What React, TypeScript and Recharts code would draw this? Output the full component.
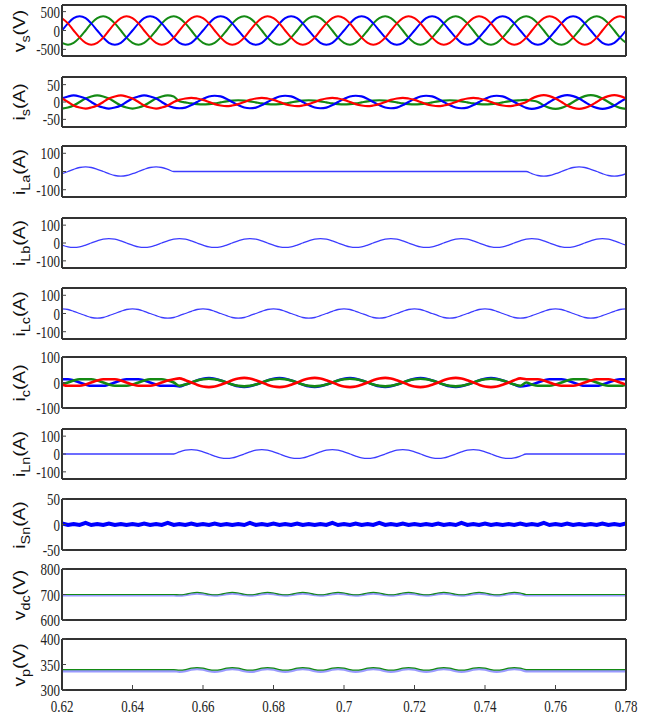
import React from "react";
import { LineChart, Line, XAxis, YAxis } from "recharts";

// time grid in seconds, one step = 30 electrical degrees at 50 Hz
const TIME = [
  0.62, 0.6217, 0.6233, 0.625, 0.6267, 0.6283,
  0.63, 0.6317, 0.6333, 0.635, 0.6367, 0.6383,
  0.64, 0.6417, 0.6433, 0.645, 0.6467, 0.6483,
  0.65, 0.6517, 0.6533, 0.655, 0.6567, 0.6583,
  0.66, 0.6617, 0.6633, 0.665, 0.6667, 0.6683,
  0.67, 0.6717, 0.6733, 0.675, 0.6767, 0.6783,
  0.68, 0.6817, 0.6833, 0.685, 0.6867, 0.6883,
  0.69, 0.6917, 0.6933, 0.695, 0.6967, 0.6983,
  0.7, 0.7017, 0.7033, 0.705, 0.7067, 0.7083,
  0.71, 0.7117, 0.7133, 0.715, 0.7167, 0.7183,
  0.72, 0.7217, 0.7233, 0.725, 0.7267, 0.7283,
  0.73, 0.7317, 0.7333, 0.735, 0.7367, 0.7383,
  0.74, 0.7417, 0.7433, 0.745, 0.7467, 0.7483,
  0.75, 0.7517, 0.7533, 0.755, 0.7567, 0.7583,
  0.76, 0.7617, 0.7633, 0.765, 0.7667, 0.7683,
  0.77, 0.7717, 0.7733, 0.775, 0.7767, 0.7783,
  0.78,
];

const X_TICKS = [0.62, 0.64, 0.66, 0.68, 0.7, 0.72, 0.74, 0.76, 0.78];
const X_TICK_LABELS = ["0.62", "0.64", "0.66", "0.68", "0.7", "0.72", "0.74", "0.76", "0.78"];

// v_s (V)
const VS_BLUE = [
  0, 188, 325, 375, 325, 188, 0, -188, -325, -375, -325, -188,
  0, 188, 325, 375, 325, 188, 0, -188, -325, -375, -325, -188,
  0, 188, 325, 375, 325, 188, 0, -188, -325, -375, -325, -188,
  0, 188, 325, 375, 325, 188, 0, -188, -325, -375, -325, -188,
  0, 188, 325, 375, 325, 188, 0, -188, -325, -375, -325, -188,
  0, 188, 325, 375, 325, 188, 0, -188, -325, -375, -325, -188,
  0, 188, 325, 375, 325, 188, 0, -188, -325, -375, -325, -188,
  0, 188, 325, 375, 325, 188, 0, -188, -325, -375, -325, -188,
  0,
];
const VS_RED = [
  325, 188, 0, -188, -325, -375, -325, -188, 0, 188, 325, 375,
  325, 188, 0, -188, -325, -375, -325, -188, 0, 188, 325, 375,
  325, 188, 0, -188, -325, -375, -325, -188, 0, 188, 325, 375,
  325, 188, 0, -188, -325, -375, -325, -188, 0, 188, 325, 375,
  325, 188, 0, -188, -325, -375, -325, -188, 0, 188, 325, 375,
  325, 188, 0, -188, -325, -375, -325, -188, 0, 188, 325, 375,
  325, 188, 0, -188, -325, -375, -325, -188, 0, 188, 325, 375,
  325, 188, 0, -188, -325, -375, -325, -188, 0, 188, 325, 375,
  325,
];
const VS_GREEN = [
  -325, -375, -325, -188, 0, 188, 325, 375, 325, 188, 0, -188,
  -325, -375, -325, -188, 0, 188, 325, 375, 325, 188, 0, -188,
  -325, -375, -325, -188, 0, 188, 325, 375, 325, 188, 0, -188,
  -325, -375, -325, -188, 0, 188, 325, 375, 325, 188, 0, -188,
  -325, -375, -325, -188, 0, 188, 325, 375, 325, 188, 0, -188,
  -325, -375, -325, -188, 0, 188, 325, 375, 325, 188, 0, -188,
  -325, -375, -325, -188, 0, 188, 325, 375, 325, 188, 0, -188,
  -325, -375, -325, -188, 0, 188, 325, 375, 325, 188, 0, -188,
  -325,
];

// i_s (A)
const IS_BLUE = [
  10, 16, 19, 16, 10, 0, -10, -16, -19, -16, -10, 0,
  10, 16, 19, 16, 10, 0, -10, -16, -18, -16, -9, 0,
  9, 16, 18, 16, 9, 0, -9, -16, -18, -16, -9, 0,
  9, 16, 18, 16, 9, 0, -9, -16, -18, -16, -9, 0,
  9, 16, 18, 16, 9, 0, -9, -16, -18, -16, -9, 0,
  9, 16, 18, 16, 9, 0, -9, -16, -18, -16, -9, 0,
  9, 16, 18, 16, 9, 0, -9, -17, -20, -17, -10, 0,
  10, 17, 20, 17, 10, 0, -10, -17, -20, -17, -10, 0,
  10,
];
const IS_RED = [
  10, 0, -10, -16, -19, -16, -10, 0, 10, 16, 19, 16,
  10, 0, -10, -16, -19, -16, -10, 0, 6, 10, 12, 10,
  6, 0, -6, -10, -12, -10, -6, 0, 6, 10, 12, 10,
  6, 0, -6, -10, -12, -10, -6, 0, 6, 10, 12, 10,
  6, 0, -6, -10, -12, -10, -6, 0, 6, 10, 12, 10,
  6, 0, -6, -10, -12, -10, -6, 0, 6, 10, 12, 10,
  6, 0, -6, -10, -12, -10, -6, 0, 10, 17, 20, 17,
  10, 0, -10, -17, -20, -17, -10, 0, 10, 17, 20, 17,
  10,
];
const IS_GREEN = [
  -19, -16, -10, 0, 10, 16, 19, 16, 10, 0, -10, -16,
  -19, -16, -10, 0, 10, 16, 19, 16, 2, -1, -4, -6,
  -7, -6, -4, -1, 2, 4, 5, 4, 2, -1, -4, -6,
  -7, -6, -4, -1, 2, 4, 5, 4, 2, -1, -4, -6,
  -7, -6, -4, -1, 2, 4, 5, 4, 2, -1, -4, -6,
  -7, -6, -4, -1, 2, 4, 5, 4, 2, -1, -4, -6,
  -7, -6, -4, -1, 2, 4, 5, 6, 4, 0, -10, -17,
  -20, -17, -10, 0, 10, 17, 20, 17, 10, 0, -10, -17,
  -20,
];

// load currents (A)
const I_LA = [
  -12, 0, 12, 22, 25, 22, 12, 0, -12, -22, -25, -22,
  -12, 0, 12, 22, 25, 22, 12, 0, 0, 0, 0, 0,
  0, 0, 0, 0, 0, 0, 0, 0, 0, 0, 0, 0,
  0, 0, 0, 0, 0, 0, 0, 0, 0, 0, 0, 0,
  0, 0, 0, 0, 0, 0, 0, 0, 0, 0, 0, 0,
  0, 0, 0, 0, 0, 0, 0, 0, 0, 0, 0, 0,
  0, 0, 0, 0, 0, 0, 0, 0, -12, -22, -25, -22,
  -12, 0, 12, 22, 25, 22, 12, 0, -12, -22, -25, -22,
  -12,
];
const I_LB = [
  -12, -22, -25, -22, -12, 0, 12, 22, 25, 22, 12, 0,
  -12, -22, -25, -22, -12, 0, 12, 22, 25, 22, 12, 0,
  -12, -22, -25, -22, -12, 0, 12, 22, 25, 22, 12, 0,
  -12, -22, -25, -22, -12, 0, 12, 22, 25, 22, 12, 0,
  -12, -22, -25, -22, -12, 0, 12, 22, 25, 22, 12, 0,
  -12, -22, -25, -22, -12, 0, 12, 22, 25, 22, 12, 0,
  -12, -22, -25, -22, -12, 0, 12, 22, 25, 22, 12, 0,
  -12, -22, -25, -22, -12, 0, 12, 22, 25, 22, 12, 0,
  -12,
];
const I_LC = [
  25, 22, 12, 0, -12, -22, -25, -22, -12, 0, 12, 22,
  25, 22, 12, 0, -12, -22, -25, -22, -12, 0, 12, 22,
  25, 22, 12, 0, -12, -22, -25, -22, -12, 0, 12, 22,
  25, 22, 12, 0, -12, -22, -25, -22, -12, 0, 12, 22,
  25, 22, 12, 0, -12, -22, -25, -22, -12, 0, 12, 22,
  25, 22, 12, 0, -12, -22, -25, -22, -12, 0, 12, 22,
  25, 22, 12, 0, -12, -22, -25, -22, -12, 0, 12, 22,
  25, 22, 12, 0, -12, -22, -25, -22, -12, 0, 12, 22,
  25,
];

// compensator currents i_c (A)
const IC_BLUE = [
  13, 13, 8, 0, -8, -13, -13, -13, -8, 0, 8, 13,
  13, 13, 8, 0, -8, -13, -13, -13, -15, -8, 0, 8,
  15, 17, 15, 8, 0, -8, -15, -17, -15, -8, 0, 8,
  15, 17, 15, 8, 0, -8, -15, -17, -15, -8, 0, 8,
  15, 17, 15, 8, 0, -8, -15, -17, -15, -8, 0, 8,
  15, 17, 15, 8, 0, -8, -15, -17, -15, -8, 0, 8,
  15, 17, 15, 8, 0, -8, -15, -13, -8, 0, 8, 13,
  13, 13, 8, 0, -8, -13, -13, -13, -8, 0, 8, 13,
  13,
];
const IC_RED = [
  -8, -13, -13, -13, -8, 0, 8, 13, 13, 13, 8, 0,
  -8, -13, -13, -13, -8, 0, 8, 13, 16, 9, 0, -9,
  -16, -18, -16, -9, 0, 9, 16, 18, 16, 9, 0, -9,
  -16, -18, -16, -9, 0, 9, 16, 18, 16, 9, 0, -9,
  -16, -18, -16, -9, 0, 9, 16, 18, 16, 9, 0, -9,
  -16, -18, -16, -9, 0, 9, 16, 18, 16, 9, 0, -9,
  -16, -18, -16, -9, 0, 9, 16, 13, 13, 13, 8, 0,
  -8, -13, -13, -13, -8, 0, 8, 13, 13, 13, 8, 0,
  -8,
];
const IC_GREEN = [
  -8, 0, 8, 13, 13, 13, 8, 0, -8, -13, -13, -13,
  -8, 0, 8, 13, 13, 13, 8, 0, -13, -8, 0, 8,
  13, 15, 13, 8, 0, -8, -13, -15, -13, -8, 0, 8,
  13, 15, 13, 8, 0, -8, -13, -15, -13, -8, 0, 8,
  13, 15, 13, 8, 0, -8, -13, -15, -13, -8, 0, 8,
  13, 15, 13, 8, 0, -8, -13, -15, -13, -8, 0, 8,
  13, 15, 13, 8, 0, -8, -13, 0, -8, -13, -13, -13,
  -8, 0, 8, 13, 13, 13, 8, 0, -8, -13, -13, -13,
  -8,
];

// load neutral current (A)
const I_LN = [
  0, 0, 0, 0, 0, 0, 0, 0, 0, 0, 0, 0,
  0, 0, 0, 0, 0, 0, 0, 0, 12, 22, 25, 22,
  12, 0, -12, -22, -25, -22, -12, 0, 12, 22, 25, 22,
  12, 0, -12, -22, -25, -22, -12, 0, 12, 22, 25, 22,
  12, 0, -12, -22, -25, -22, -12, 0, 12, 22, 25, 22,
  12, 0, -12, -22, -25, -22, -12, 0, 12, 22, 25, 22,
  12, 0, -12, -22, -25, -22, -12, 0, 0, 0, 0, 0,
  0, 0, 0, 0, 0, 0, 0, 0, 0, 0, 0, 0,
  0,
];

// source neutral current (A), switching ripple only
const I_SN = [
  2, -1, 1, -1, 3, -1, 1, -1, 2, -1, 1, -1,
  1, -1, 2, -1, 1, -1, 3, -1, 1, -1, 2, -1,
  1, -1, 2, -1, 1, -1, 1, -1, 3, -1, 1, -1,
  2, -1, 1, -1, 2, -1, 1, -1, 1, -1, 3, -1,
  1, -1, 2, -1, 1, -1, 3, -1, 1, -1, 2, -1,
  1, -1, 1, -1, 2, -1, 1, -1, 3, -1, 1, -1,
  2, -1, 1, -1, 1, -1, 2, -1, 1, -1, 3, -1,
  1, -1, 2, -1, 1, -1, 1, -1, 2, -1, 1, -1,
  2,
];

// dc bus voltage (V)
const VDC_GREEN = [
  700, 700, 700, 700, 700, 700, 700, 700, 700, 700, 700, 700,
  700, 700, 700, 700, 700, 700, 700, 700, 699, 701, 706, 708,
  706, 701, 699, 701, 706, 708, 706, 701, 699, 701, 706, 708,
  706, 701, 699, 701, 706, 708, 706, 701, 699, 701, 706, 708,
  706, 701, 699, 701, 706, 708, 706, 701, 699, 701, 706, 708,
  706, 701, 699, 701, 706, 708, 706, 701, 699, 701, 706, 708,
  706, 701, 699, 701, 706, 708, 706, 700, 700, 700, 700, 700,
  700, 700, 700, 700, 700, 700, 700, 700, 700, 700, 700, 700,
  700,
];
const VDC_BLUE = [
  697, 697, 697, 697, 697, 697, 697, 697, 697, 697, 697, 697,
  697, 697, 697, 697, 697, 697, 697, 697, 696, 698, 702, 704,
  702, 698, 696, 698, 702, 704, 702, 698, 696, 698, 702, 704,
  702, 698, 696, 698, 702, 704, 702, 698, 696, 698, 702, 704,
  702, 698, 696, 698, 702, 704, 702, 698, 696, 698, 702, 704,
  702, 698, 696, 698, 702, 704, 702, 698, 696, 698, 702, 704,
  702, 698, 696, 698, 702, 704, 702, 697, 697, 697, 697, 697,
  697, 697, 697, 697, 697, 697, 697, 697, 697, 697, 697, 697,
  697,
];

// split capacitor voltage (V)
const VP_GREEN = [
  340, 340, 340, 340, 340, 340, 340, 340, 340, 340, 340, 340,
  340, 340, 340, 340, 340, 340, 340, 340, 339, 340, 343, 344,
  343, 340, 339, 340, 343, 344, 343, 340, 339, 340, 343, 344,
  343, 340, 339, 340, 343, 344, 343, 340, 339, 340, 343, 344,
  343, 340, 339, 340, 343, 344, 343, 340, 339, 340, 343, 344,
  343, 340, 339, 340, 343, 344, 343, 340, 339, 340, 343, 344,
  343, 340, 339, 340, 343, 344, 343, 340, 340, 340, 340, 340,
  340, 340, 340, 340, 340, 340, 340, 340, 340, 340, 340, 340,
  340,
];
const VP_BLUE = [
  337, 337, 337, 337, 337, 337, 337, 337, 337, 337, 337, 337,
  337, 337, 337, 337, 337, 337, 337, 337, 336, 337, 340, 341,
  340, 337, 336, 337, 340, 341, 340, 337, 336, 337, 340, 341,
  340, 337, 336, 337, 340, 341, 340, 337, 336, 337, 340, 341,
  340, 337, 336, 337, 340, 341, 340, 337, 336, 337, 340, 341,
  340, 337, 336, 337, 340, 341, 340, 337, 336, 337, 340, 341,
  340, 337, 336, 337, 340, 341, 340, 337, 337, 337, 337, 337,
  337, 337, 337, 337, 337, 337, 337, 337, 337, 337, 337, 337,
  337,
];

const BLUE = "#0000ff";
const RED = "#ff0000";
const GREEN = "#148a14";
const THIN_BLUE = "#3c3cff";
const PALE_BLUE = "#9a9aff";

const SERIF = "'Liberation Serif', 'Times New Roman', serif";
const SANS = "'Liberation Sans', Arial, sans-serif";

const frame = { stroke: "#333", strokeWidth: 2 };
const tickMark = { stroke: "#444", strokeWidth: 1 };

const YTick = (props: any) => {
  const { x, y, payload } = props;
  return (
    <g transform={`translate(${x},${y}) scale(1,1.3)`}>
      <text x={0} y={0} dy="0.36em" textAnchor="end" fontFamily={SERIF} fontSize={13} fill="#222">
        {String(payload.value)}
      </text>
    </g>
  );
};

const XTick = (props: any) => {
  const { x, y, payload } = props;
  const i = X_TICKS.indexOf(payload.value);
  return (
    <g transform={`translate(${x},${y}) scale(1,1.3)`}>
      <text x={0} y={0} dy="0.75em" textAnchor="middle" fontFamily={SERIF} fontSize={13} fill="#222">
        {i >= 0 ? X_TICK_LABELS[i] : String(payload.value)}
      </text>
    </g>
  );
};

type Trace = { key: string; values: number[]; color: string; width: number; curve?: "monotone" | "linear" };
type PanelDef = {
  top: number;
  bottom: number;
  domain: [number, number];
  ticks: number[];
  sym: string;
  sub: string;
  unit: string;
  traces: Trace[];
  showX?: boolean;
};

const PANELS: PanelDef[] = [
  {
    top: 5, bottom: 56, domain: [-675, 675], ticks: [-500, 0, 500], sym: "v", sub: "s", unit: "(V)",
    traces: [
      { key: "g", values: VS_GREEN, color: GREEN, width: 2 },
      { key: "b", values: VS_BLUE, color: BLUE, width: 2 },
      { key: "r", values: VS_RED, color: RED, width: 2 },
    ],
  },
  {
    top: 77, bottom: 127, domain: [-72, 72], ticks: [-50, 0, 50], sym: "i", sub: "s", unit: "(A)",
    traces: [
      { key: "g", values: IS_GREEN, color: GREEN, width: 2.2 },
      { key: "b", values: IS_BLUE, color: BLUE, width: 2.2 },
      { key: "r", values: IS_RED, color: RED, width: 2.2 },
    ],
  },
  {
    top: 146, bottom: 197, domain: [-140, 140], ticks: [-100, 0, 100], sym: "i", sub: "La", unit: "(A)",
    traces: [{ key: "a", values: I_LA, color: THIN_BLUE, width: 1.3 }],
  },
  {
    top: 218, bottom: 268, domain: [-140, 140], ticks: [-100, 0, 100], sym: "i", sub: "Lb", unit: "(A)",
    traces: [{ key: "a", values: I_LB, color: THIN_BLUE, width: 1.3 }],
  },
  {
    top: 288, bottom: 339, domain: [-140, 140], ticks: [-100, 0, 100], sym: "i", sub: "Lc", unit: "(A)",
    traces: [{ key: "a", values: I_LC, color: THIN_BLUE, width: 1.3 }],
  },
  {
    top: 357, bottom: 408, domain: [-100, 100], ticks: [-100, 0, 100], sym: "i", sub: "c", unit: "(A)",
    traces: [
      { key: "b", values: IC_BLUE, color: BLUE, width: 2.6 },
      { key: "g", values: IC_GREEN, color: GREEN, width: 2.6 },
      { key: "r", values: IC_RED, color: RED, width: 2.6 },
    ],
  },
  {
    top: 429, bottom: 479, domain: [-140, 140], ticks: [-100, 0, 100], sym: "i", sub: "Ln", unit: "(A)",
    traces: [{ key: "a", values: I_LN, color: THIN_BLUE, width: 1.3 }],
  },
  {
    top: 499, bottom: 550, domain: [-50, 50], ticks: [-50, 0, 50], sym: "i", sub: "Sn", unit: "(A)",
    traces: [{ key: "a", values: I_SN, color: BLUE, width: 4, curve: "linear" }],
  },
  {
    top: 569, bottom: 620, domain: [600, 800], ticks: [600, 700, 800], sym: "v", sub: "dc", unit: "(V)",
    traces: [
      { key: "b", values: VDC_BLUE, color: PALE_BLUE, width: 2.5 },
      { key: "g", values: VDC_GREEN, color: GREEN, width: 1.2 },
    ],
  },
  {
    top: 639, bottom: 690, domain: [300, 400], ticks: [300, 350, 400], sym: "v", sub: "p", unit: "(V)",
    traces: [
      { key: "b", values: VP_BLUE, color: PALE_BLUE, width: 2.5 },
      { key: "g", values: VP_GREEN, color: GREEN, width: 1.2 },
    ],
    showX: true,
  },
];

const Panel = ({ p }: { p: PanelDef }) => {
  const pad = 10;
  const xh = p.showX ? 26 : 1;
  const mb = p.showX ? 2 : pad - 1;
  const h = pad + (p.bottom - p.top) + xh + mb;
  const rows = TIME.map((t, k) => {
    const row: Record<string, number> = { t };
    p.traces.forEach((tr) => {
      row[tr.key] = tr.values[k];
    });
    return row;
  });
  return (
    <div style={{ position: "absolute", left: 0, top: p.top - pad }}>
      <LineChart width={651} height={h} data={rows} margin={{ top: pad - 1, right: 24, bottom: mb, left: 0 }}>
        <XAxis
          xAxisId="b"
          dataKey="t"
          type="number"
          domain={[0.62, 0.78]}
          allowDataOverflow
          ticks={X_TICKS}
          interval={0}
          height={xh}
          axisLine={frame}
          tickLine={p.showX ? tickMark : false}
          tickSize={-5}
          tickMargin={14}
          tick={p.showX ? <XTick /> : false}
        />
        <XAxis
          xAxisId="t"
          orientation="top"
          dataKey="t"
          type="number"
          domain={[0.62, 0.78]}
          allowDataOverflow
          ticks={X_TICKS}
          interval={0}
          height={1}
          axisLine={frame}
          tickLine={p.showX ? tickMark : false}
          tickSize={-5}
          tick={false}
        />
        <YAxis
          yAxisId="l"
          type="number"
          domain={p.domain}
          allowDataOverflow
          ticks={p.ticks}
          interval={0}
          width={62}
          axisLine={frame}
          tickLine={tickMark}
          tickSize={-4}
          tickMargin={6}
          tick={<YTick />}
        />
        <YAxis
          yAxisId="r"
          orientation="right"
          type="number"
          domain={p.domain}
          allowDataOverflow
          ticks={p.ticks}
          interval={0}
          width={1}
          axisLine={frame}
          tickLine={tickMark}
          tickSize={-4}
          tick={false}
        />
        {p.traces.map((tr) => (
          <Line
            key={tr.key}
            xAxisId="b"
            yAxisId="l"
            dataKey={tr.key}
            type={tr.curve ?? "monotone"}
            stroke={tr.color}
            strokeWidth={tr.width}
            dot={false}
            activeDot={false}
            isAnimationActive={false}
          />
        ))}
      </LineChart>
      <div
        style={{
          position: "absolute",
          left: 20,
          top: pad + (p.bottom - p.top) / 2,
          transform: "translate(-50%, -50%) rotate(-90deg) scaleX(1.2)",
          whiteSpace: "nowrap",
          fontFamily: SANS,
          fontSize: 16,
          lineHeight: 1,
          color: "#111",
        }}
      >
        {p.sym}
        <span style={{ fontSize: 12, position: "relative", top: 5 }}>{p.sub}</span>
        {p.unit}
      </div>
    </div>
  );
};

export default function App() {
  return (
    <div style={{ position: "absolute", left: 0, top: 0, width: 651, height: 718, background: "#fff" }}>
      {PANELS.map((p, i) => (
        <Panel key={i} p={p} />
      ))}
    </div>
  );
}
